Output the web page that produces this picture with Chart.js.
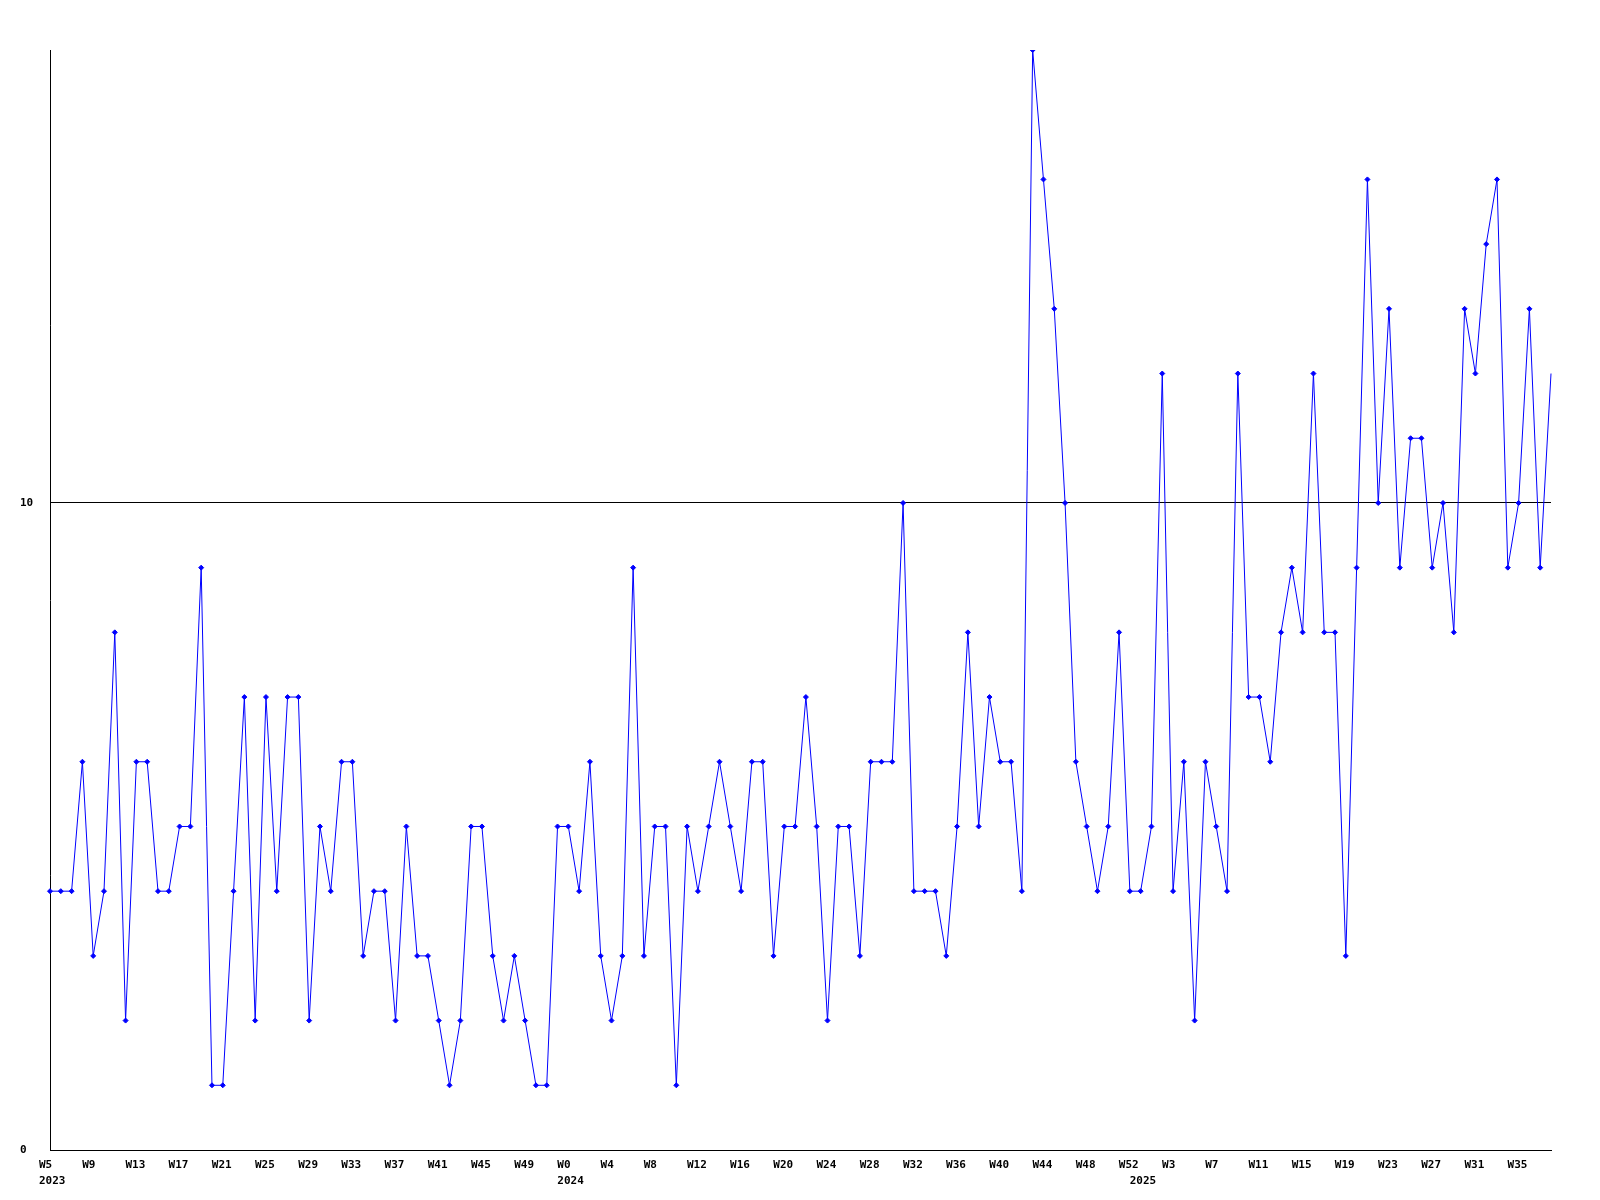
<!DOCTYPE html>
<html>
<head>
<meta charset="utf-8">
<script src="https://cdn.jsdelivr.net/npm/chart.js@4/dist/chart.umd.min.js"></script>
<style>
  body { margin: 0; background: white; }
</style>
</head>
<body>
<canvas id="weekly" width="1600" height="1200"></canvas>
<script>
        // weeks shown per year
        var years = ['2023', '2024', '2025'];
        var firstWeek = [5, 0, 0];
        var lastWeek = [52, 52, 38];

        // weekly counts, one array per year
        var values2023 = [4,4,4,6,3,4,8,2,6,6,4,4,5,5,9,1,1,4,7,2,7,4,7,7,2,5,
                          4,6,6,3,4,4,2,5,3,3,2,1,2,5,5,3,2,3,2,1,1,5];
        var values2024 = [5,4,6,3,2,3,9,3,5,5,1,5,4,5,6,5,4,6,6,3,5,5,7,5,2,5,5,
                          3,6,6,6,10,4,4,4,3,5,8,5,7,6,6,4,17,15,13,10,6,5,4,5,8,4];
        var values2025 = [4,5,12,4,6,2,6,5,4,12,7,7,6,8,9,8,12,8,8,3,9,15,10,13,
                          9,11,11,9,10,8,13,12,14,15,9,10,13,9,12];

        var yTicks = [0, 10];
        var labelEvery = 4;

        var weeks = [];
        var yearOf = [];
        years.forEach(function (y, k) {
            for (var w = firstWeek[k]; w <= lastWeek[k]; w++) {
                weeks.push('W' + w);
                yearOf.push(w === firstWeek[k] ? y : '');
            }
        });
        var values = values2023.concat(values2024, values2025);

        var tickFont = { family: 'DejaVu Sans Mono', size: 11, weight: 'bold', lineHeight: '16px' };

        new Chart(document.getElementById('weekly'), {
            type: 'line',
            data: {
                labels: weeks,
                datasets: [{
                    data: values,
                    borderColor: '#0000ff',
                    backgroundColor: '#0000ff',
                    borderWidth: 1,
                    tension: 0,
                    pointStyle: 'rectRot',
                    pointRadius: function (c) { return c.dataIndex === values.length - 1 ? 0 : 2.5; },
                    pointBorderWidth: 1,
                    pointBorderColor: '#0000ff',
                    pointBackgroundColor: '#0000ff'
                }]
            },
            options: {
                responsive: false,
                animation: false,
                layout: { padding: { left: 20, top: 50, right: 49, bottom: 0 } },
                plugins: {
                    legend: { display: false },
                    tooltip: { enabled: false }
                },
                scales: {
                    x: {
                        grid: { display: false, drawTicks: false },
                        border: { display: true, color: 'black', width: 1 },
                        afterFit: function (s) { s.height = 50; },
                        ticks: {
                            autoSkip: false,
                            maxRotation: 0,
                            minRotation: 0,
                            align: 'start',
                            labelOffset: -11,
                            padding: 7,
                            color: 'black',
                            font: tickFont,
                            callback: function (v, i) {
                                var w = i % labelEvery === 0 ? weeks[i] : '';
                                if (yearOf[i]) return [w, yearOf[i]];
                                return w;
                            }
                        }
                    },
                    y: {
                        min: 0,
                        max: 17,
                        afterFit: function (s) { s.width = 30; },
                        afterBuildTicks: function (s) {
                            s.ticks = yTicks.map(function (v) { return { value: v }; });
                        },
                        grid: { color: 'black', lineWidth: 1, drawTicks: false },
                        border: { display: true, color: 'black', width: 1 },
                        ticks: {
                            crossAlign: 'far',
                            color: 'black',
                            font: tickFont
                        }
                    }
                }
            }
        });
</script>
</body>
</html>
